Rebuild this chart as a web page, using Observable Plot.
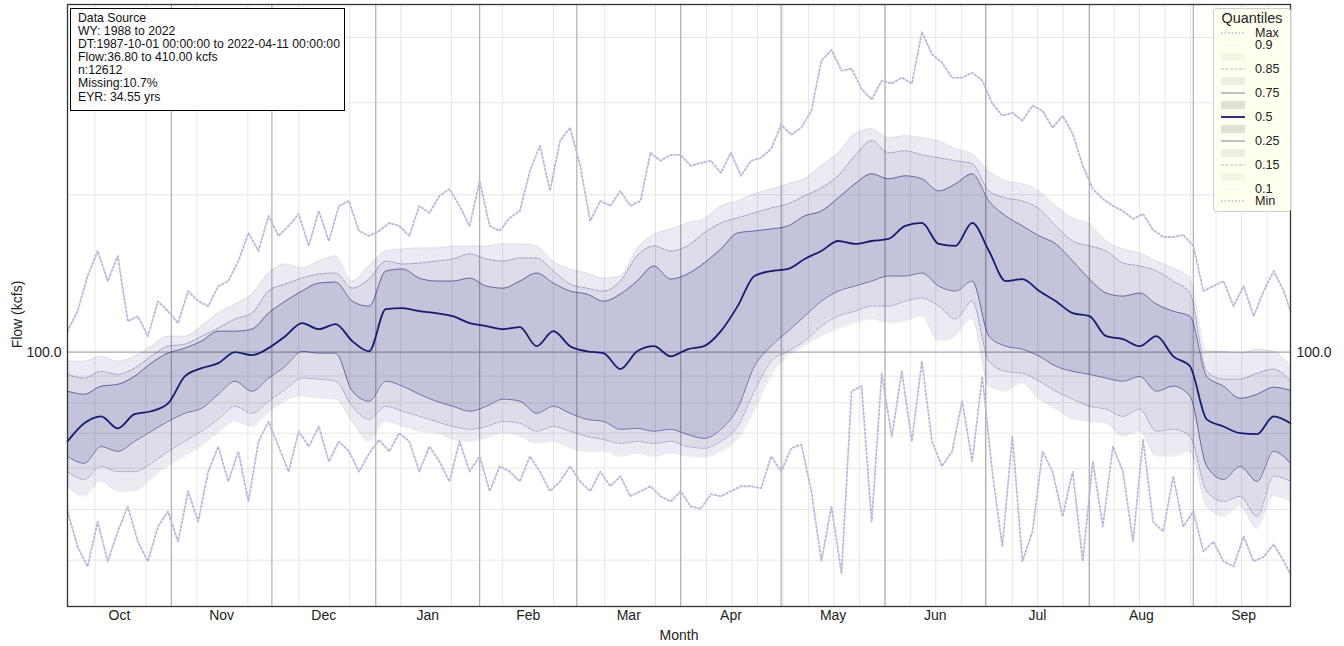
<!DOCTYPE html>
<html><head><meta charset="utf-8">
<script src="https://cdn.jsdelivr.net/npm/d3@7"></script>
<script src="https://cdn.jsdelivr.net/npm/@observablehq/plot@0.6"></script>
<style>
body{margin:0;background:#fff;font-family:"Liberation Sans",Arial,sans-serif;}
#wrap{position:relative;width:1344px;height:646px;overflow:hidden;}
.info{position:absolute;left:70px;top:8px;width:266px;height:98px;border:1.3px solid #000;background:#fff;padding:3px 0 0 7px;font-size:12.25px;line-height:13.1px;color:#111;white-space:nowrap;}
.legend{position:absolute;left:1213px;top:8px;width:76px;height:202px;background:#fffff0;border:1px solid #cfcfcf;border-radius:3px;font-size:12.6px;color:#222;}
.legend .t{position:absolute;left:0;width:76px;top:2px;height:15px;line-height:15px;text-align:center;font-size:14.4px;}
.legend .r{position:absolute;left:0;width:76px;height:12px;}
.legend .r svg{position:absolute;left:6px;top:0;}
.legend .r span{position:absolute;left:41px;top:0;height:12px;line-height:12px;}
</style></head>
<body><div id="wrap"></div>
<script>
// ---- data (kcfs), quantiles sampled every 5 days of the water year ----
const monthLabels = ["Oct","Nov","Dec","Jan","Feb","Mar","Apr","May","Jun","Jul","Aug","Sep"];
const monthStarts = [1,32,62,93,124,153,184,214,245,275,306,337,367];
const qDays = d3.range(1, 367, 5);
const q50 = [67.5,73.1,75.4,71.5,76.1,77.1,79.8,89.9,93.2,95.3,100.0,98.7,101.8,107.3,113.7,110.7,113.2,105.0,100.4,120.9,121.4,119.8,118.8,117.2,113.7,112.2,110.7,111.7,102.7,109.7,102.7,100.4,99.6,92.8,100.4,102.7,98.2,101.3,102.7,109.7,122.5,139.9,143.0,144.3,150.8,156.2,163.2,161.1,163.2,164.7,174.4,176.7,161.1,159.7,176.7,156.2,136.8,138.0,130.9,125.2,118.8,117.2,107.3,105.9,102.7,107.3,98.2,94.0,74.4,72.1,70.0,69.7,75.4,73.1];
const q75 = [84.2,83.1,86.1,86.8,89.9,95.3,99.6,101.8,105.0,109.7,109.7,110.7,118.8,125.2,130.9,135.6,136.2,125.2,122.5,143.0,144.3,138.6,136.8,136.8,138.6,133.8,132.6,136.8,141.7,135.6,130.9,129.2,125.2,129.2,136.8,146.2,138.0,141.1,148.1,157.6,169.1,170.6,172.1,174.4,182.3,186.3,197.3,209.9,219.4,214.6,217.5,214.6,203.5,209.9,219.4,194.7,182.3,174.4,166.9,161.1,149.4,138.0,129.8,128.0,129.8,123.6,119.8,117.2,89.9,86.1,81.6,83.1,85.7,84.5];
const q85 = [90.7,89.2,91.9,90.7,93.2,98.2,102.7,103.6,107.3,111.2,115.7,118.8,130.9,135.0,138.6,141.1,141.7,132.6,138.0,149.4,147.5,148.1,149.4,150.8,154.1,150.8,149.4,151.4,151.4,143.0,135.0,132.6,130.9,136.8,152.8,159.7,156.2,159.7,169.1,176.7,180.7,184.7,188.8,192.2,199.1,206.3,217.5,237.5,253.8,240.7,242.8,238.5,235.5,232.4,229.3,203.5,197.3,194.7,188.0,174.4,163.2,159.7,156.2,148.1,146.2,143.0,136.8,129.8,91.9,88.8,88.8,91.1,92.8,88.0];
const q90 = [96.1,96.1,98.2,96.1,98.2,102.7,107.3,107.3,112.2,118.8,123.6,129.2,141.7,147.5,144.9,149.4,152.8,136.8,146.2,156.2,157.6,158.3,158.3,159.7,159.7,159.7,161.1,161.1,159.7,149.4,144.3,141.7,138.6,139.9,158.0,168.0,172.1,176.7,179.9,190.5,194.7,200.9,205.3,209.9,214.6,227.3,240.7,261.8,267.5,257.2,259.5,257.2,253.8,245.0,239.6,222.3,212.7,209.9,203.5,190.5,180.7,176.0,163.2,157.6,154.8,149.4,144.9,138.6,100.4,100.4,99.6,101.3,100.4,94.0];
const q25 = [63.2,61.3,66.0,64.6,67.5,70.6,73.7,76.4,78.1,83.1,88.0,84.2,89.2,94.0,100.4,99.6,99.6,84.2,80.6,88.0,86.1,83.1,80.6,78.8,77.1,78.8,81.3,80.6,76.4,78.8,76.4,74.4,73.7,71.2,71.5,70.6,71.2,69.6,68.4,71.2,78.1,94.0,102.7,109.7,117.2,125.2,130.9,133.8,136.8,139.9,139.9,141.7,133.8,130.9,136.8,107.3,102.7,101.3,98.2,94.0,91.9,90.7,89.2,88.0,89.9,84.2,86.1,82.4,60.5,57.1,60.5,56.6,64.6,61.3];
const q15 = [59.1,57.1,60.5,59.1,59.1,61.3,64.6,67.5,70.6,74.4,78.8,76.4,80.6,84.9,89.2,88.8,88.0,78.8,74.4,78.8,77.1,75.4,73.7,72.1,71.2,72.1,73.7,73.1,70.6,72.1,70.6,69.0,68.1,66.9,67.5,66.9,67.5,66.0,65.5,67.5,72.1,84.2,96.1,100.4,105.0,112.2,117.2,119.8,122.5,122.5,125.2,126.9,122.5,115.7,125.2,96.1,91.9,91.1,88.0,84.2,81.3,78.8,77.8,75.4,77.8,70.6,71.2,69.0,54.2,51.8,53.0,48.5,57.9,56.6];
const q10 = [55.4,53.0,56.6,54.2,54.2,57.1,60.5,63.2,66.0,70.0,73.7,72.1,76.4,80.6,82.4,81.6,81.3,73.7,67.5,73.7,72.1,70.6,70.0,68.1,67.5,68.4,70.0,69.0,66.9,67.5,65.5,64.6,64.6,63.2,64.0,63.2,64.0,63.2,62.9,64.6,68.1,77.1,89.9,98.2,102.7,107.3,110.7,113.7,115.7,113.7,114.6,117.2,105.0,107.3,115.7,86.1,84.2,87.2,81.3,77.8,74.4,73.7,73.1,69.0,70.6,63.2,63.2,64.6,50.7,48.5,50.7,46.0,53.0,51.8];
// ---- daily extremes, sampled every 3 days ----
const extDays = d3.range(1, 366, 3).concat([366]);
const maxV = [109.7,119.8,139.9,156.2,136.8,152.8,114.6,117.2,107.3,125.2,119.8,113.7,130.9,125.2,122.5,133.8,136.8,149.4,169.1,156.2,182.3,166.9,174.4,183.9,159.7,186.3,163.2,190.5,194.7,170.6,166.9,170.6,176.7,174.4,166.9,190.5,184.7,199.1,205.3,190.5,174.4,212.7,174.4,170.6,180.7,186.3,222.3,248.3,203.5,253.8,268.8,227.3,178.3,194.7,190.5,203.5,190.5,194.7,240.7,232.4,238.5,238.5,227.3,230.3,232.4,220.4,240.7,217.5,232.4,235.5,245.0,272.4,260.6,268.8,289.7,361.3,378.6,345.7,348.8,318.6,304.6,330.8,326.5,335.2,326.5,410.0,371.4,358.1,335.2,335.2,342.7,330.8,299.0,283.4,287.2,277.2,296.2,289.7,268.8,283.4,261.8,227.3,205.3,196.4,190.5,186.3,179.9,183.9,171.4,166.1,166.1,167.6,159.7,130.9,133.8,136.8,122.5,133.8,117.2,130.9,143.0,130.9,119.8];
const minV = [49.6,42.5,38.9,47.4,39.8,45.4,50.7,43.4,39.8,46.4,49.6,43.4,54.2,47.4,59.1,66.0,56.6,64.6,51.8,67.5,73.7,66.0,59.1,70.6,66.0,72.1,61.8,67.5,64.6,59.1,64.0,68.0,64.6,70.0,67.5,59.1,66.0,61.8,56.6,67.5,59.1,63.2,54.2,60.5,59.1,56.6,63.2,59.1,54.2,56.6,60.5,56.6,54.2,59.1,55.4,57.9,53.0,54.2,55.4,53.0,51.8,54.2,50.7,50.2,53.5,53.0,54.2,55.4,55.4,54.9,63.2,59.1,65.5,66.6,54.2,39.8,50.7,37.7,84.2,86.1,47.4,91.1,69.0,91.9,67.5,96.1,67.5,60.5,64.6,80.6,61.8,89.9,59.1,42.5,69.0,39.8,45.4,64.6,59.1,48.5,59.1,39.8,61.8,46.4,66.0,59.1,43.4,68.0,47.4,45.4,57.9,46.4,49.6,41.6,43.4,39.8,38.9,44.4,39.8,40.6,42.9,39.8,37.6];
const yMinorTicks = [40,50,60,70,80,90,200,300,400];
const yMajorTicks = [100];
const infoLines = ["Data Source","WY: 1988 to 2022","DT:1987-10-01 00:00:00 to 2022-04-11 00:00:00","Flow:36.80 to 410.00 kcfs","n:12612","Missing:10.7%","EYR: 34.55 yrs"];

// ---- build ----
const rows = qDays.map((d,i)=>({day:d,q10:q10[i],q15:q15[i],q25:q25[i],q50:q50[i],q75:q75[i],q85:q85[i],q90:q90[i]}));
const ext = extDays.map((d,i)=>({day:d,max:maxV[i],min:minV[i]}));
const monthMids = monthStarts.slice(0,12).map((d,i)=>(d+monthStarts[i+1])/2);
const minorX = d3.range(1,48).filter(k=>k%2===1 || k>=26).map(k=>1+k*365/48+0.6);
const NAVY = "#191970";
const EXT = "#b9b9da";
const curve = "monotone-x";
const band = (a,b,op)=>Plot.areaY(rows,{x:"day",y1:a,y2:b,fill:NAVY,fillOpacity:op,curve});

const chart = Plot.plot({
  width:1344, height:646,
  marginLeft:67, marginRight:54, marginTop:4, marginBottom:40,
  style:{fontFamily:"Liberation Sans, Arial, sans-serif", fontSize:"14px", color:"#222", background:"#fff"},
  x:{domain:[1,366]},
  y:{type:"log", domain:[32.62,462.6]},
  marks:[
    Plot.ruleX(minorX,{stroke:"#e6e6e6",strokeWidth:1}),
    Plot.ruleY(yMinorTicks,{stroke:"#e6e6e6",strokeWidth:1}),
    Plot.ruleX(monthStarts.slice(1,12),{stroke:"#b0b0b0",strokeWidth:1.2}),
    Plot.ruleY(yMajorTicks,{stroke:"#a8a8a8",strokeWidth:1.2}),
    band("q85","q90",0.085),
    band("q75","q85",0.15),
    band("q50","q75",0.26),
    band("q25","q50",0.26),
    band("q15","q25",0.15),
    band("q10","q15",0.085),
    Plot.line(ext,{x:"day",y:"max",stroke:EXT,strokeWidth:1.8,strokeDasharray:"1.8,2.2"}),
    Plot.line(ext,{x:"day",y:"min",stroke:EXT,strokeWidth:1.8,strokeDasharray:"1.8,2.2"}),
    Plot.line(rows,{x:"day",y:"q90",stroke:NAVY,strokeOpacity:0.15,strokeWidth:0.8,strokeDasharray:"1,2",curve}),
    Plot.line(rows,{x:"day",y:"q10",stroke:NAVY,strokeOpacity:0.15,strokeWidth:0.8,strokeDasharray:"1,2",curve}),
    Plot.line(rows,{x:"day",y:"q85",stroke:NAVY,strokeOpacity:0.35,strokeWidth:0.9,strokeDasharray:"3,1.5",curve}),
    Plot.line(rows,{x:"day",y:"q15",stroke:NAVY,strokeOpacity:0.35,strokeWidth:0.9,strokeDasharray:"3,1.5",curve}),
    Plot.line(rows,{x:"day",y:"q75",stroke:NAVY,strokeOpacity:0.55,strokeWidth:1,curve}),
    Plot.line(rows,{x:"day",y:"q25",stroke:NAVY,strokeOpacity:0.55,strokeWidth:1,curve}),
    Plot.line(rows,{x:"day",y:"q50",stroke:NAVY,strokeWidth:1.8,curve}),
    Plot.frame({stroke:"#333",strokeWidth:1.3}),
    Plot.axisX({ticks:monthMids, tickFormat:d=>monthLabels[monthMids.indexOf(d)], tickSize:0, tickPadding:4, fontSize:14, label:"Month", labelAnchor:"center", labelArrow:"none", labelOffset:33}),
    Plot.axisY({anchor:"left", ticks:yMajorTicks, tickFormat:d=>d.toFixed(1), tickSize:0, tickPadding:6, fontSize:14, label:null}),
    Plot.axisY({anchor:"right", ticks:yMajorTicks, tickFormat:d=>d.toFixed(1), tickSize:0, tickPadding:6, fontSize:14, label:null}),
    Plot.text(["Flow (kcfs)"],{frameAnchor:"left", dx:-50, dy:9, rotate:-90, textAnchor:"middle", fontSize:14, fill:"#222"})
  ]
});
const wrap = document.getElementById("wrap");
wrap.appendChild(chart);

// info box
const info = document.createElement("div");
info.className = "info";
info.innerHTML = infoLines.map(s=>`<div>${s}</div>`).join("");
wrap.appendChild(info);

// legend
const legendItems = [
  {label:"Max", kind:"line", color:EXT, w:1.5, dash:"1.5,2"},
  {label:"0.9", kind:"line", color:"rgba(25,25,112,0.15)", w:0.8, dash:"1,2"},
  {label:"", kind:"patch", op:0.085},
  {label:"0.85", kind:"line", color:"rgba(25,25,112,0.35)", w:0.9, dash:"3,1.5"},
  {label:"", kind:"patch", op:0.15},
  {label:"0.75", kind:"line", color:"rgba(25,25,112,0.55)", w:1},
  {label:"", kind:"patch", op:0.26},
  {label:"0.5", kind:"line", color:NAVY, w:1.8},
  {label:"", kind:"patch", op:0.26},
  {label:"0.25", kind:"line", color:"rgba(25,25,112,0.55)", w:1},
  {label:"", kind:"patch", op:0.15},
  {label:"0.15", kind:"line", color:"rgba(25,25,112,0.35)", w:0.9, dash:"3,1.5"},
  {label:"", kind:"patch", op:0.085},
  {label:"0.1", kind:"line", color:"rgba(25,25,112,0.15)", w:0.8, dash:"1,2"},
  {label:"Min", kind:"line", color:EXT, w:1.5, dash:"1.5,2"}
];
const leg = document.createElement("div");
leg.className = "legend";
let html = `<div class="t">Quantiles</div>`;
legendItems.forEach((it,k)=>{
  const top = 18 + 12*k;
  let g;
  if (it.kind==="line") g = `<svg width="26" height="12"><line x1="1" x2="25" y1="6" y2="6" stroke="${it.color}" stroke-width="${it.w}" ${it.dash?`stroke-dasharray="${it.dash}"`:""}/></svg>`;
  else g = `<svg width="26" height="12"><rect x="1" y="2" width="24" height="8" fill="#808080" fill-opacity="${it.op*0.9}"/></svg>`;
  html += `<div class="r" style="top:${top}px">${g}${it.label?`<span>${it.label}</span>`:""}</div>`;
});
leg.innerHTML = html;
wrap.appendChild(leg);
</script></body></html>
